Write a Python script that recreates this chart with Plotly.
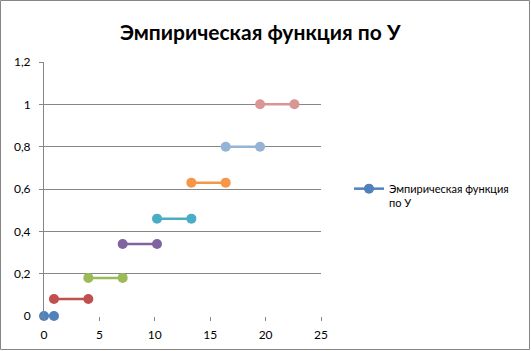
import plotly.graph_objects as go

# data: step function segments
x_start = [0, 0.9, 4.0, 7.1, 10.2, 13.3, 16.4, 19.5]
x_end = [0.9, 4.0, 7.1, 10.2, 13.3, 16.4, 19.5, 22.6]
f_values = [0, 0.08, 0.18, 0.34, 0.46, 0.63, 0.80, 1.0]
colors = ["#4F81BD", "#C0504D", "#9BBB59", "#8064A2", "#4BACC6", "#F79646", "#95B3D7", "#D99694"]
series_name = "Эмпирическая функция<br>по У"
y_tickvals = [0, 0.2, 0.4, 0.6, 0.8, 1.0, 1.2]
y_ticktext = ["0", "0,2", "0,4", "0,6", "0,8", "1", "1,2"]
x_tickvals = [0, 5, 10, 15, 20, 25]

W, H = 531, 351
ml, mr, mt, mb = 44, 210, 62, 35

fig = go.Figure()
for i, (a, b, v, c) in enumerate(zip(x_start, x_end, f_values, colors)):
    fig.add_trace(go.Scatter(
        x=[a, b], y=[v, v], mode="lines+markers",
        line=dict(color=c, width=2.5),
        marker=dict(color=c, size=10),
        name=series_name, showlegend=(i == 0), cliponaxis=False,
    ))

pw = W - ml - mr
ph = H - mt - mb
fig.update_layout(
    width=W, height=H,
    margin=dict(l=ml, r=mr, t=mt, b=mb, autoexpand=False),
    paper_bgcolor="white", plot_bgcolor="white",
    font=dict(family="Lato, Open Sans, sans-serif", size=12, color="black"),
    title=dict(text="<b>Эмпирическая функция по У</b>", x=0.49, xanchor="center",
               y=1 - 33 / H, yanchor="middle", font=dict(size=21, color="black")),
    xaxis=dict(range=[0, 25], tickvals=x_tickvals, showgrid=False, zeroline=False,
               showline=False, ticks="outside", ticklen=4, tickcolor="#868686",
               tickfont=dict(size=12), ticklabelstandoff=4, automargin=False),
    yaxis=dict(range=[0, 1.2], tickvals=y_tickvals, ticktext=y_ticktext,
               showgrid=True, gridcolor="#868686", gridwidth=1, zeroline=False,
               showline=True, linecolor="#868686", linewidth=1,
               ticks="outside", ticklen=4, tickcolor="#868686",
               tickfont=dict(size=12), ticklabelstandoff=6, automargin=False),
    legend=dict(x=(349 - ml) / pw, xanchor="left", y=(H - mb - 175) / ph, yanchor="top",
                valign="top", font=dict(size=11), bgcolor="rgba(0,0,0,0)", itemwidth=30),
    showlegend=True,
)
# chart outer border
fig.add_shape(type="rect", xref="paper", yref="paper",
              x0=(0.5 - ml) / pw, x1=(W - 1.5 - ml) / pw,
              y0=(H - mb - (H - 1.5)) / ph, y1=(H - mb - 0.5) / ph,
              line=dict(color="#868686", width=1), fillcolor="rgba(0,0,0,0)", layer="below")

fig.write_html("out.html")
